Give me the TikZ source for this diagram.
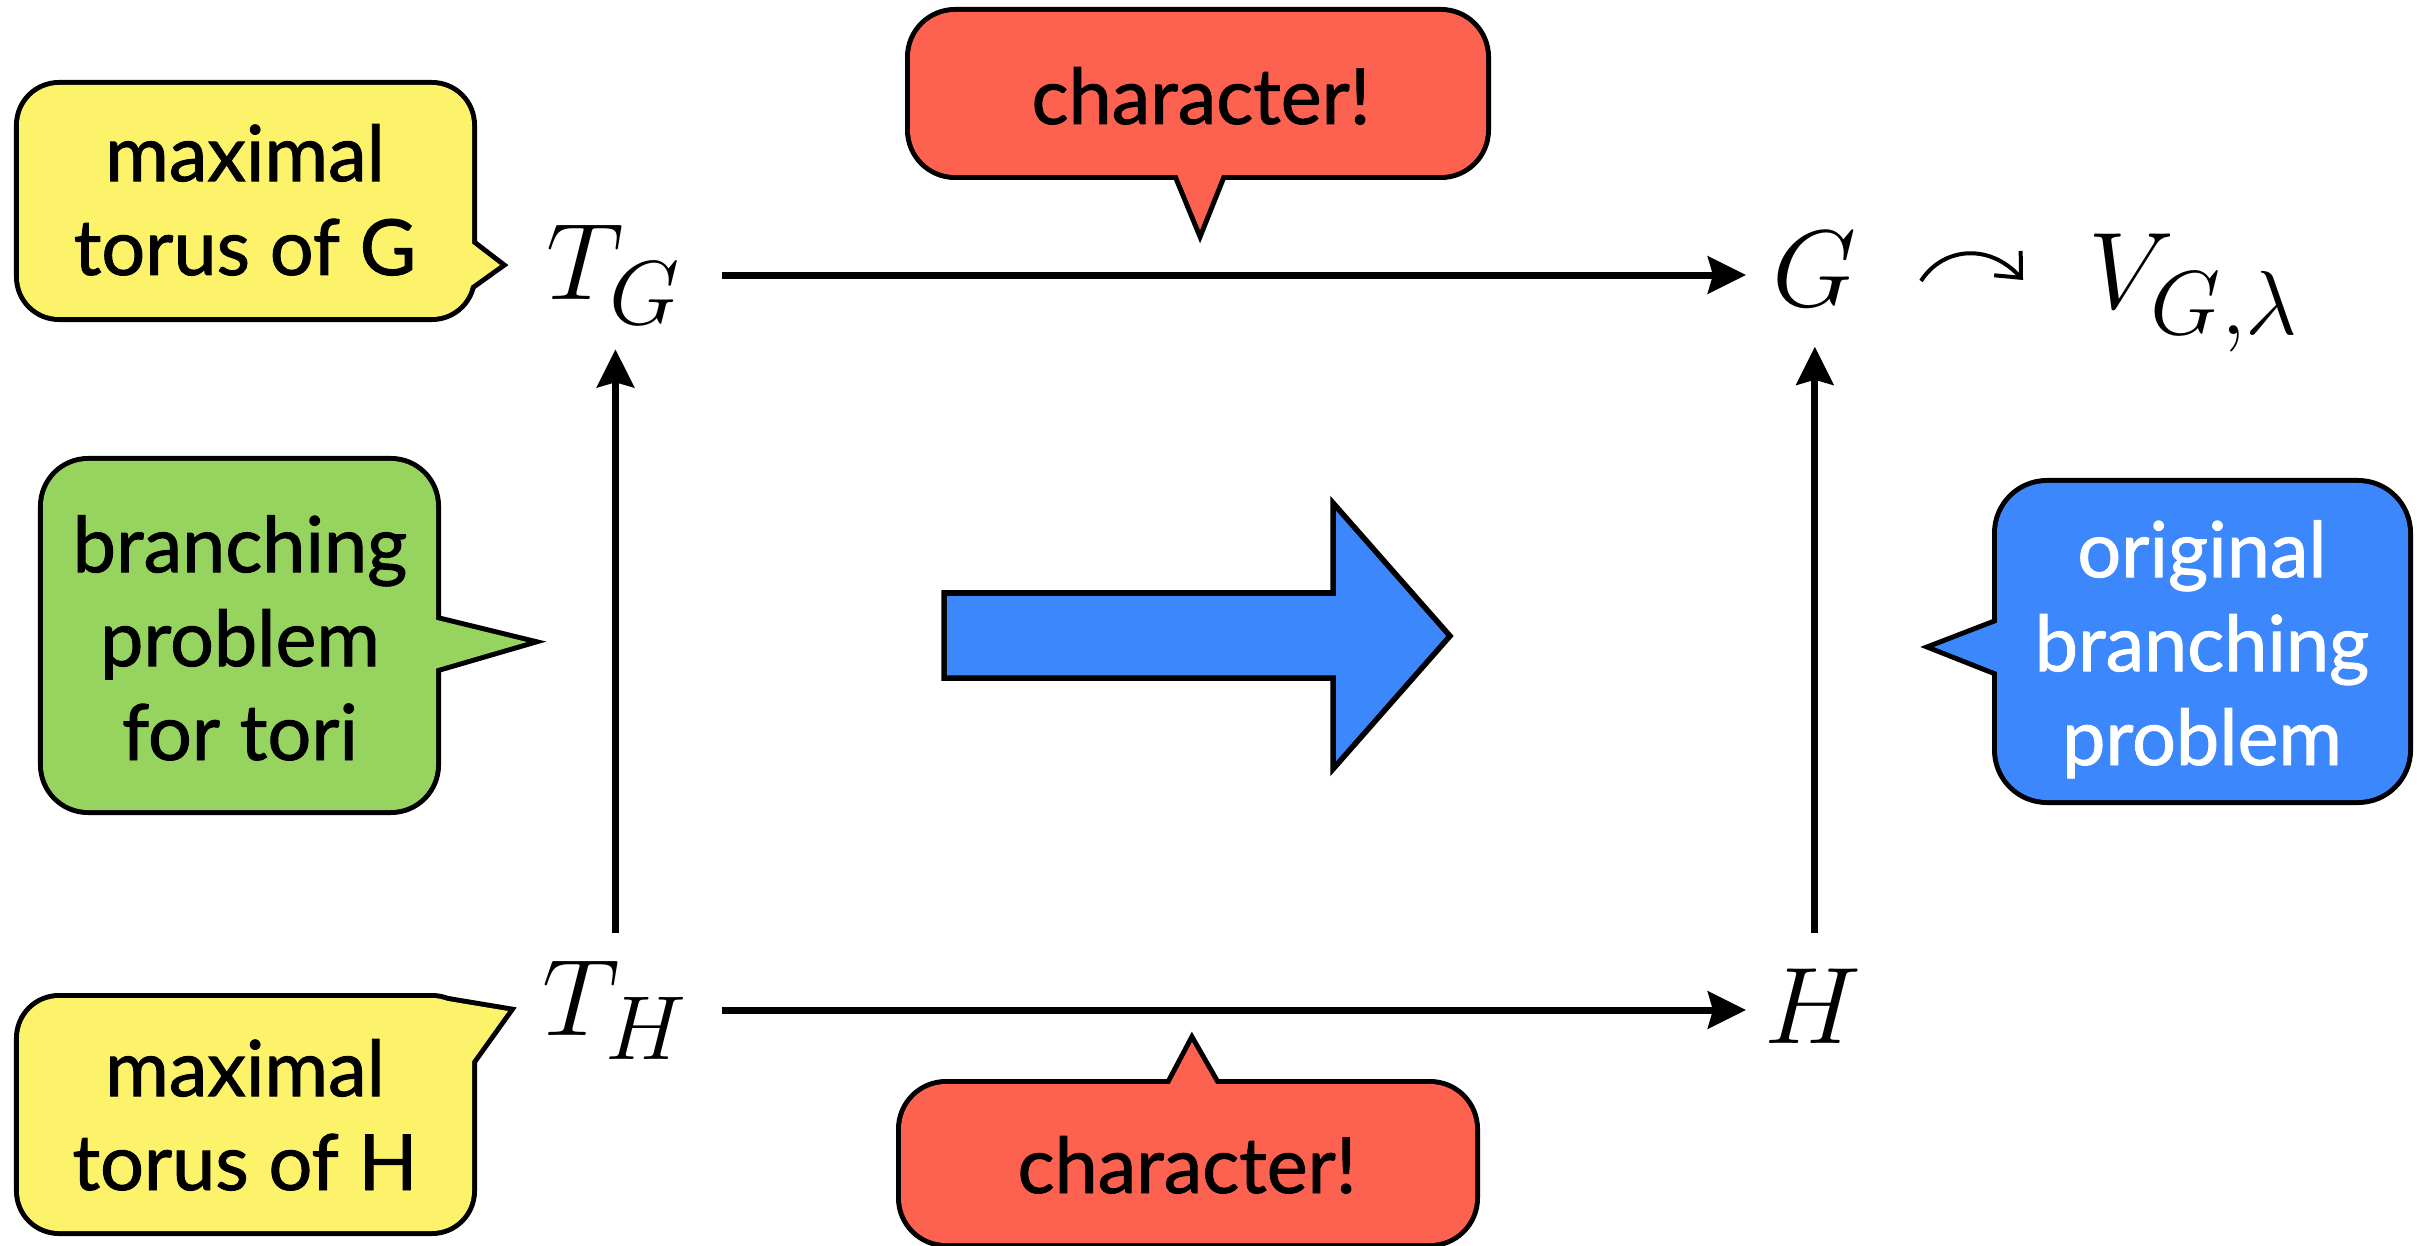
\documentclass[tikz,border=0pt]{standalone}
\usepackage{amssymb}
\usepackage{graphicx}
\usepackage{fontspec}
\newfontfamily\callfont[FakeBold=1.2]{Lato}
\usetikzlibrary{arrows.meta}
\definecolor{cyel}{RGB}{253,243,107}
\definecolor{cred}{RGB}{253,98,80}
\definecolor{cgreen}{RGB}{151,211,95}
\definecolor{cblue}{RGB}{60,135,252}
\newcommand\mathbigtext[1]{\scalebox{1.246}{$\displaystyle #1$}}
\tikzset{
  arr/.style={line width=0.07cm, -{Stealth[length=0.38cm,width=0.37cm,inset=0.05cm]}},
  actarr/.style={line width=0.04cm, -{Straight Barb[length=0.2cm,width=0.36cm,line width=0.04cm]}},
  mathnode/.style={inner sep=0pt, font=\Huge},
  calltext/.style={inner sep=0pt, align=center, font=\callfont\fontsize{22}{26.7}\selectfont},
  bubblestroke/.style={draw=black, line width=0.1cm, line join=miter},
  bigarrow/.style={draw=black, fill=cblue, line width=0.055cm, line join=miter},
}
\newcommand\bubble[4]{%
  \path[bubblestroke, rounded corners=#2] #3;
  \path[bubblestroke] #4 -- cycle;
  \path[fill=#1, rounded corners=#2] #3;
  \path[fill=#1] #4 -- cycle;
}
\begin{document}
\begin{tikzpicture}[x=0.01cm,y=-0.01cm]
\useasboundingbox (0,0) rectangle (2427,1246);
% callouts
\bubble{cyel}{0.4cm}{(19,85) rectangle (472,317)}{(440,219) -- (500,265) -- (440,308)}
\bubble{cred}{0.45cm}{(910,12) rectangle (1486,175)}{(1167,150) -- (1232,150) -- (1200,230)}
\bubble{cgreen}{0.45cm}{(43,461) rectangle (436,810)}{(400,611) -- (527,642) -- (400,679)}
\bubble{cblue}{0.5cm}{(1997,483) rectangle (2408,800)}{(2030,610) -- (1934,647) -- (2030,685)}
\bubble{cyel}{0.4cm}{(19,998) rectangle (472,1231)}{(436,999) -- (508,1011) -- (450,1092)}
\bubble{cred}{0.45cm}{(901,1084) rectangle (1475,1243)}{(1156,1110) -- (1192,1042) -- (1231,1110)}
% callout texts
\node[calltext, anchor=base] (ty) at (245,275) {maximal\\torus of G};
\node[calltext, anchor=base] (cr1) at (1201,124) {character!};
\node[calltext, anchor=base] (gb) at (240,760) {branching\\problem\\for tori};
\node[calltext, anchor=base, text=white] (bb) at (2202,765) {original\\branching\\problem};
\node[calltext, anchor=base] (tyh) at (245,1190) {maximal\\torus of H};
\node[calltext, anchor=base] (cr2) at (1187,1193) {character!};
% big blue arrow
\path[bigarrow] (944,593) -- (1333,593) -- (1333,503) -- (1450,636) -- (1333,769) -- (1333,678) -- (944,678) -- cycle;
% math nodes
\node[mathnode, anchor=base west] (TG) at (546,300) {\mathbigtext{T_G}};
\node[mathnode, anchor=base west] (G) at (1772,307) {\mathbigtext{G}};
\node[mathnode, anchor=base west] (TH) at (542,1035) {\mathbigtext{T_H}};
\node[mathnode, anchor=base west] (H) at (1764,1043) {\mathbigtext{H}};
\node[mathnode, anchor=base west] (V) at (2088,309) {\mathbigtext{V_{G,\lambda}}};
% action arrow G -> V
\coordinate (actL) at (1921,281);
\coordinate (actR) at (2023,280);
\draw[actarr] (actL) .. controls (1942,248) and (1988,242) .. (actR);
% connectors
\draw[arr, shorten <=0.40cm, shorten >=0.26cm] (TG.east) -- (TG.east -| G.west);
\draw[arr, shorten <=0.33cm, shorten >=0.18cm] (TH.east) -- (TH.east -| H.west);
\draw[arr, shorten <=0.27cm, shorten >=0.24cm] (TH.north) -- (TH.north |- TG.south);
\draw[arr, shorten <=0.35cm, shorten >=0.39cm] (H.north -| G.south) -- (G.south);
\end{tikzpicture}
\end{document}
